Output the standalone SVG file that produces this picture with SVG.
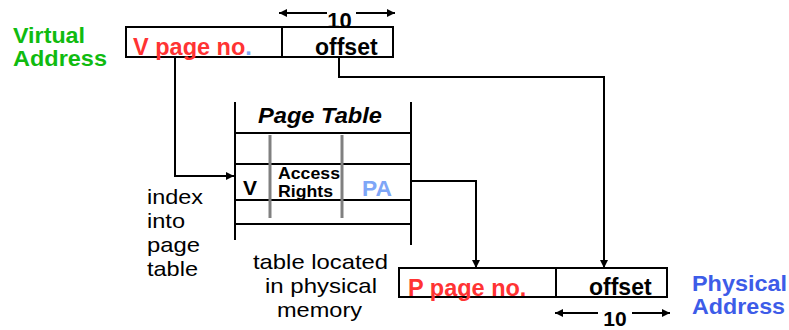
<svg xmlns="http://www.w3.org/2000/svg" width="789" height="330" viewBox="0 0 789 330">
<style>
text{font-family:"Liberation Sans",Arial,sans-serif}
.b{font-weight:bold}
.ln{stroke:#000;stroke-width:2;fill:none}
.gr{stroke:#808080;stroke-width:3;fill:none}
.reg{font-size:21px;fill:#000}
</style>
<defs>
<marker id="ah2" viewBox="0 0 10 10" refX="10" refY="5" markerWidth="9" markerHeight="8" orient="auto-start-reverse" markerUnits="userSpaceOnUse">
<path d="M0,0 L10,5 L0,10 z" fill="#000"/>
</marker>
</defs>
<g id="virtual-label">
<text x="13" y="43" class="b" font-size="22" fill="#10bb10" textLength="72" lengthAdjust="spacingAndGlyphs">Virtual</text>
<text x="13" y="66" class="b" font-size="22" fill="#10bb10" textLength="94" lengthAdjust="spacingAndGlyphs">Address</text>
</g>
<g id="virtual-address">
<rect x="126" y="27" width="267" height="30" class="ln"/>
<line x1="282" y1="27" x2="282" y2="57" class="ln"/>
<text x="133" y="55" class="b" font-size="23.5" fill="#ff3333">V page no<tspan fill="#7ea6f7">.</tspan></text>
<text x="315" y="55" class="b" font-size="23" fill="#000">offset</text>
</g>
<g id="top-width">
<line x1="327" y1="13" x2="279" y2="13" class="ln" marker-end="url(#ah2)"/>
<line x1="356" y1="13" x2="395" y2="13" class="ln" marker-end="url(#ah2)"/>
<text x="339.5" y="28" text-anchor="middle" class="b" font-size="22" fill="#000">10</text>
</g>
<g id="page-table">
<line x1="235" y1="102" x2="235" y2="240" class="ln"/>
<line x1="411" y1="102" x2="411" y2="245" class="ln"/>
<line x1="235" y1="133" x2="411" y2="133" class="ln"/>
<line x1="235" y1="164" x2="411" y2="164" class="ln"/>
<line x1="235" y1="200" x2="411" y2="200" class="ln"/>
<line x1="235" y1="224" x2="411" y2="224" class="ln"/>
<line x1="270" y1="135" x2="270" y2="218" class="gr"/>
<line x1="342" y1="135" x2="342" y2="218" class="gr"/>
<text x="258" y="123" class="b" font-style="italic" font-size="22.5" fill="#000" textLength="124" lengthAdjust="spacingAndGlyphs">Page Table</text>
<text x="243" y="195" class="b" font-size="21" fill="#000">V</text>
<text x="278" y="179" class="b" font-size="16.5" fill="#000" textLength="62" lengthAdjust="spacingAndGlyphs">Access</text>
<text x="278" y="197" class="b" font-size="16.5" fill="#000" textLength="55" lengthAdjust="spacingAndGlyphs">Rights</text>
<text x="362" y="196" class="b" font-size="21.5" fill="#7ea6f7" textLength="30" lengthAdjust="spacingAndGlyphs">PA</text>
</g>
<g id="index-label">
<text x="147" y="204" class="reg" textLength="56" lengthAdjust="spacingAndGlyphs">index</text>
<text x="147" y="228" class="reg" textLength="38" lengthAdjust="spacingAndGlyphs">into</text>
<text x="147" y="252" class="reg" textLength="53" lengthAdjust="spacingAndGlyphs">page</text>
<text x="147" y="276" class="reg" textLength="51" lengthAdjust="spacingAndGlyphs">table</text>
</g>
<g id="table-note">
<text x="253" y="269" class="reg" font-size="22" textLength="135" lengthAdjust="spacingAndGlyphs">table located</text>
<text x="265" y="293" class="reg" font-size="22" textLength="112" lengthAdjust="spacingAndGlyphs">in physical</text>
<text x="277" y="317" class="reg" font-size="22" textLength="85" lengthAdjust="spacingAndGlyphs">memory</text>
</g>
<g id="physical-address">
<rect x="399" y="268" width="268" height="29" class="ln"/>
<line x1="556" y1="268" x2="556" y2="297" class="ln"/>
<text x="408" y="296" class="b" font-size="23.5" fill="#ff3333">P page no.</text>
<text x="589" y="295" class="b" font-size="23" fill="#000">offset</text>
</g>
<g id="bottom-width">
<line x1="598" y1="313" x2="555" y2="313" class="ln" marker-end="url(#ah2)"/>
<line x1="632" y1="313" x2="670" y2="313" class="ln" marker-end="url(#ah2)"/>
<text x="615" y="326" text-anchor="middle" class="b" font-size="21" fill="#000">10</text>
</g>
<g id="physical-label">
<text x="692" y="291" class="b" font-size="22" fill="#3d5ce8" textLength="95" lengthAdjust="spacingAndGlyphs">Physical</text>
<text x="692" y="314" class="b" font-size="22" fill="#3d5ce8" textLength="93" lengthAdjust="spacingAndGlyphs">Address</text>
</g>
<g id="connectors">
<polyline points="175,57 175,176 234,176" class="ln" marker-end="url(#ah2)"/>
<polyline points="339,57 339,77 604,77 604,268" class="ln" marker-end="url(#ah2)"/>
<polyline points="411,181 476,181 476,268" class="ln" marker-end="url(#ah2)"/>
</g>
</svg>
